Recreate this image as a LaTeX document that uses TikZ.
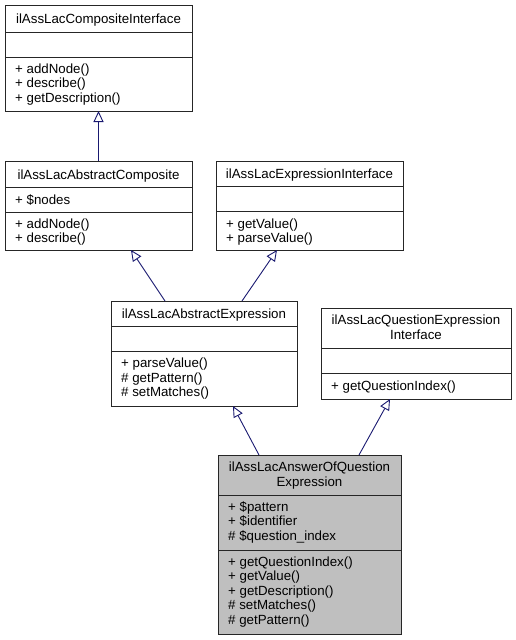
\documentclass[tikz,border=0pt]{standalone}
\usepackage{fontspec}
\setmainfont{Liberation Sans}
\usetikzlibrary{arrows.meta}
\definecolor{edgeblue}{HTML}{191970}
\definecolor{classgray}{HTML}{BFBFBF}
\tikzset{
  box/.style={draw=black!85, line width=1pt, inner sep=0pt, outer sep=0pt, anchor=north west, fill=white},
  focusbox/.style={box, fill=classgray},
  divider/.style={draw=black!85, line width=1pt},
  ttl/.style={anchor=base, inner sep=0pt, font=\fontsize{13.3}{14.5}\selectfont},
  mem/.style={anchor=base west, inner sep=0pt, font=\fontsize{13.3}{14.5}\selectfont},
  inh/.style={draw=edgeblue, line width=0.9pt, -{Triangle[open, length=11pt, width=10pt, fill=white]}}
}
\begin{document}
\begin{tikzpicture}[x=1pt, y=-1pt]
\useasboundingbox (0,0) rectangle (516,640);
% ilAssLacCompositeInterface
\node[box, minimum width=187pt, minimum height=106pt] (ci) at (5,5) {};
\draw[divider] (ci.west |- 0,32) -- (ci.east |- 0,32);
\draw[divider] (ci.west |- 0,57) -- (ci.east |- 0,57);
\node[ttl] (ci-t) at (98.5,23) {ilAssLacCompositeInterface};
\node[mem] (ci-m1) at (15,73) {+ addNode()};
\node[mem] (ci-m2) at (15,87.5) {+ describe()};
\node[mem] (ci-m3) at (15,102) {+ getDescription()};
% ilAssLacAbstractComposite
\node[box, minimum width=187pt, minimum height=89pt] (ac) at (5,161) {};
\draw[divider] (ac.west |- 0,187) -- (ac.east |- 0,187);
\draw[divider] (ac.west |- 0,212) -- (ac.east |- 0,212);
\node[ttl] (ac-t) at (98.5,179) {ilAssLacAbstractComposite};
\node[mem] (ac-a1) at (15,204) {+ \$nodes};
\node[mem] (ac-m1) at (15,228) {+ addNode()};
\node[mem] (ac-m2) at (15,242.5) {+ describe()};
% ilAssLacExpressionInterface
\node[box, minimum width=187pt, minimum height=89pt] (ei) at (216,161) {};
\draw[divider] (ei.west |- 0,186) -- (ei.east |- 0,186);
\draw[divider] (ei.west |- 0,211) -- (ei.east |- 0,211);
\node[ttl] (ei-t) at (309.5,178.5) {ilAssLacExpressionInterface};
\node[mem] (ei-m1) at (226,228) {+ getValue()};
\node[mem] (ei-m2) at (226,242.5) {+ parseValue()};
% ilAssLacAbstractExpression
\node[box, minimum width=186pt, minimum height=105pt] (ae) at (111,301) {};
\draw[divider] (ae.west |- 0,326) -- (ae.east |- 0,326);
\draw[divider] (ae.west |- 0,351) -- (ae.east |- 0,351);
\node[ttl] (ae-t) at (204,318.5) {ilAssLacAbstractExpression};
\node[mem] (ae-m1) at (121,367.5) {+ parseValue()};
\node[mem] (ae-m2) at (121,382) {\# getPattern()};
\node[mem] (ae-m3) at (121,396.5) {\# setMatches()};
% ilAssLacQuestionExpressionInterface
\node[box, minimum width=190pt, minimum height=91pt] (qi) at (321,308) {};
\draw[divider] (qi.west |- 0,348) -- (qi.east |- 0,348);
\draw[divider] (qi.west |- 0,373) -- (qi.east |- 0,373);
\node[ttl] (qi-t1) at (416,324.5) {ilAssLacQuestionExpression};
\node[ttl] (qi-t2) at (416,339) {Interface};
\node[mem] (qi-m1) at (331,390.5) {+ getQuestionIndex()};
% ilAssLacAnswerOfQuestionExpression
\node[focusbox, minimum width=183pt, minimum height=179pt] (aq) at (218,455) {};
\draw[divider] (aq.west |- 0,495) -- (aq.east |- 0,495);
\draw[divider] (aq.west |- 0,550) -- (aq.east |- 0,550);
\node[ttl] (aq-t1) at (309.5,471.5) {ilAssLacAnswerOfQuestion};
\node[ttl] (aq-t2) at (309.5,486) {Expression};
\node[mem] (aq-a1) at (228,511) {+ \$pattern};
\node[mem] (aq-a2) at (228,525.5) {+ \$identifier};
\node[mem] (aq-a3) at (228,540) {\# \$question\_index};
\node[mem] (aq-m1) at (228,566) {+ getQuestionIndex()};
\node[mem] (aq-m2) at (228,580.5) {+ getValue()};
\node[mem] (aq-m3) at (228,595) {+ getDescription()};
\node[mem] (aq-m4) at (228,609.5) {\# setMatches()};
\node[mem] (aq-m5) at (228,624) {\# getPattern()};
% inheritance edges
\draw[inh] (ac.north) -- (ci.south);
\draw[inh] ([xshift=54pt]ae.north west) -- ([xshift=126pt]ac.south west);
\draw[inh] ([xshift=131pt]ae.north west) -- ([xshift=61pt]ei.south west);
\draw[inh] ([xshift=41pt]aq.north west) -- ([xshift=122pt]ae.south west);
\draw[inh] ([xshift=141pt]aq.north west) -- ([xshift=69pt]qi.south west);
\end{tikzpicture}
\end{document}
